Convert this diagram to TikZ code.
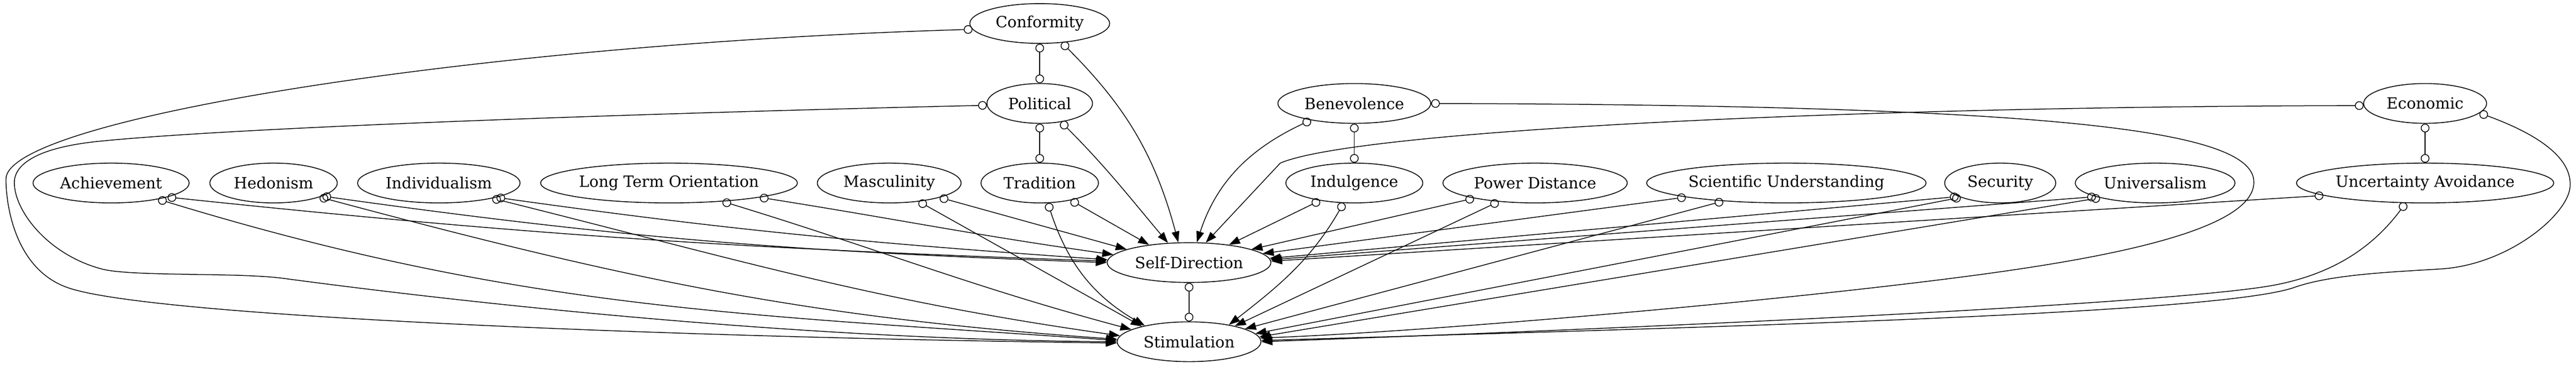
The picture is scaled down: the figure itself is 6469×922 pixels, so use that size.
\documentclass[tikz,border=0pt]{standalone}
\usepackage{fontspec}
\setmainfont{DejaVu Serif}
\usetikzlibrary{arrows.meta,shapes.geometric}
\tikzset{
  nd/.style={ellipse, draw, line width=0.75pt, inner sep=0pt, minimum height=36pt,
    font=\fontsize{14}{17}\selectfont},
  edgeline/.style={line width=0.7pt},
  oo/.style={edgeline, {Circle[open,length=7.8pt,width=7.8pt]}-{Circle[open,length=7.8pt,width=7.8pt]}},
  oa/.style={edgeline, {Circle[open,length=7.8pt,width=7.8pt]}-{Triangle[length=10pt,width=7pt]}}
}
\begin{document}
\begin{tikzpicture}[x=0.36pt,y=-0.36pt]
\useasboundingbox (0,0) rectangle (6469,922);
% nodes
\node[nd, minimum width=126.4pt] (conf) at (2611,59) {Conformity};
\node[nd, minimum width=95.4pt] (pol) at (2611,260) {Political};
\node[nd, minimum width=106.2pt] (trad) at (2611,460) {Tradition};
\node[nd, minimum width=148pt] (sd) at (2986,660) {Self-Direction};
\node[nd, minimum width=130pt] (stim) at (2986,859) {Stimulation};
\node[nd, minimum width=138.2pt] (ben) at (3401,260) {Benevolence};
\node[nd, minimum width=123.8pt] (indul) at (3401,460) {Indulgence};
\node[nd, minimum width=141.1pt] (ach) at (279,460) {Achievement};
\node[nd, minimum width=115.2pt] (hed) at (687,460) {Hedonism};
\node[nd, minimum width=146.9pt] (indiv) at (1102,460) {Individualism};
\node[nd, minimum width=232.2pt] (lto) at (1680,460) {Long Term Orientation};
\node[nd, minimum width=130pt] (masc) at (2233,460) {Masculinity};
\node[nd, minimum width=166.7pt] (pd) at (3855,460) {Power Distance};
\node[nd, minimum width=252.7pt] (su) at (4486,460) {Scientific Understanding};
\node[nd, minimum width=100.4pt] (sec) at (5023,460) {Security};
\node[nd, minimum width=144.4pt] (univ) at (5412,460) {Universalism};
\node[nd, minimum width=111.2pt] (econ) at (6090,260) {Economic};
\node[nd, minimum width=232.6pt] (ua) at (6090,460) {Uncertainty Avoidance};
% vertical o-o edges
\draw[oo] (conf) -- (pol);
\draw[oo] (pol) -- (trad);
\draw[oo] (ben) -- (indul);
\draw[oo] (econ) -- (ua);
\draw[oo] (sd) -- (stim);
% upper nodes
\draw[oa] (conf.-41) to[out=-45,in=105] (sd.118);
\draw[oa] (pol.-41) to[out=-45,in=130] (sd.137);
\draw[oa] (trad.-29) -- (sd.156);
\draw[oa] (trad.-68) to[out=-72,in=150] (stim.160);
\draw[oa] (ben.201) to[out=205,in=72] (sd.69);
\draw[oa] (conf.185) .. controls (1200,110) and (15,300) .. (15,450)
  .. controls (15,520) and (40,680) .. (173,724)
  .. controls (400,800) and (1800,850) .. (stim.181);
\draw[oa] (pol.182) .. controls (1600,285) and (600,320) .. (250,355)
  .. controls (100,370) and (36,410) .. (36,459)
  .. controls (36,530) and (120,640) .. (255,676)
  .. controls (330,696) and (600,684) .. (714,700)
  .. controls (880,722) and (1850,852) .. (stim.180);
\draw[oa] (ben.0) .. controls (5200,265) and (5665,330) .. (5660,460)
  .. controls (5655,600) and (5150,670) .. (4800,712)
  .. controls (4300,772) and (3550,835) .. (stim.3);
\draw[oa] (econ.182) .. controls (4600,268) and (3400,330) .. (3215,410) -- (sd.50);
\draw[oa] (econ.-10) .. controls (6380,340) and (6460,400) .. (6454,470)
  .. controls (6448,540) and (6300,665) .. (6130,676)
  .. controls (6000,684) and (5850,690) .. (5757,724)
  .. controls (5550,790) and (4300,822) .. (stim.1);
\draw[oa] (ua.226) .. controls (5960,620) and (5860,690) .. (5704,718)
  .. controls (5450,762) and (4300,818) .. (stim.0);
\draw[oa] (ua.187) -- (sd.1);
% left row
\draw[oa] (ach.-14) to[out=-6,in=178] (sd.179);
\draw[oa] (ach.-19) to[out=-17,in=176] (stim.179);
\draw[oa] (hed.-15) to[out=-8,in=178] (sd.180);
\draw[oa] (hed.-17) to[out=-15,in=176] (stim.178);
\draw[oa] (indiv.-14) to[out=-8,in=176] (sd.178);
\draw[oa] (indiv.-16) to[out=-14,in=172] (stim.175);
\draw[oa] (lto.-9) to[out=-9,in=172] (sd.174);
\draw[oa] (lto.-19) to[out=-17,in=165] (stim.168);
\draw[oa] (masc.-16) -- (sd.168);
\draw[oa] (masc.-32) -- (stim.162);
% right row
\draw[oa] (indul.207) -- (sd.24);
\draw[oa] (indul.242) to[out=240,in=38] (stim.23);
\draw[oa] (pd.194) -- (sd.12);
\draw[oa] (pd.207) -- (stim.19);
\draw[oa] (su.188) -- (sd.7);
\draw[oa] (su.196) -- (stim.13);
\draw[oa] (sec.198) -- (sd.3);
\draw[oa] (sec.200) -- (stim.7);
\draw[oa] (univ.193) -- (sd.2);
\draw[oa] (univ.195) -- (stim.4);
\end{tikzpicture}
\end{document}
